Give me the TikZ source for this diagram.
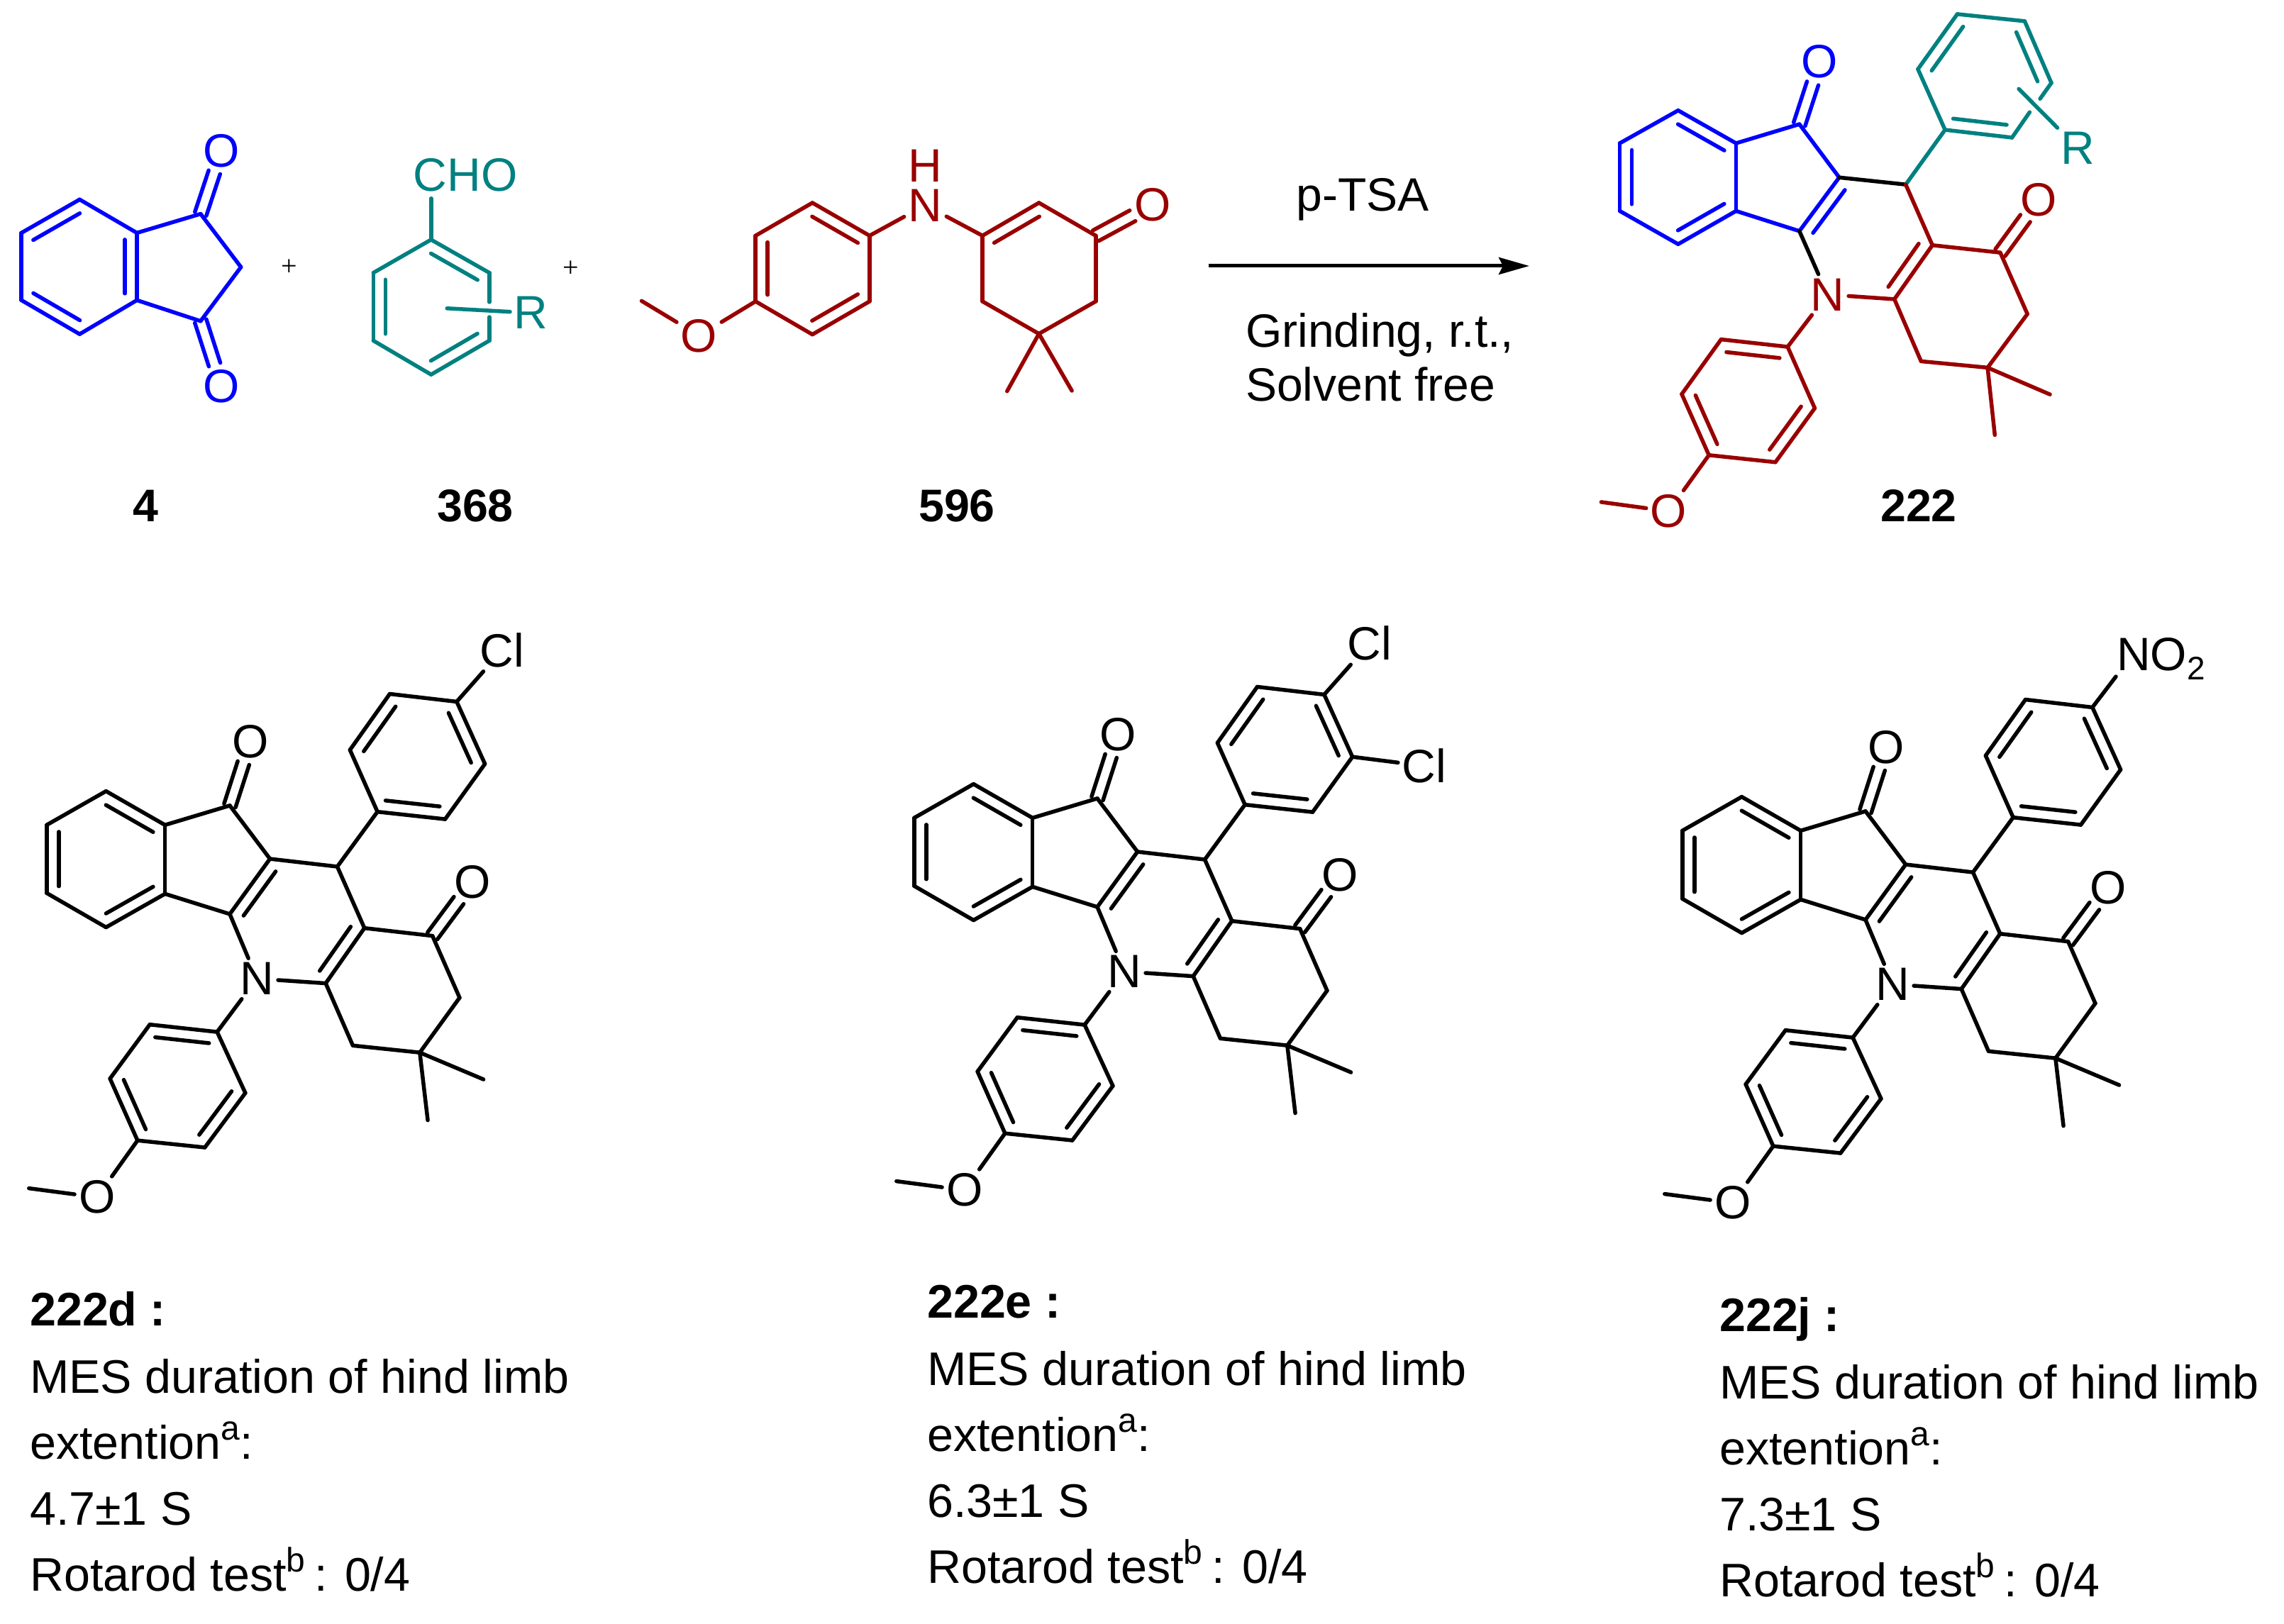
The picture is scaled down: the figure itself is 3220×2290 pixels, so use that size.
\documentclass[tikz,border=0pt]{standalone}
\usepackage{fontspec}
\setmainfont{Liberation Sans}
\newfontfamily\plusfont{Liberation Serif}
\usetikzlibrary{calc,arrows.meta}
\definecolor{molblue}{HTML}{0000FF}
\definecolor{molteal}{HTML}{008080}
\definecolor{molred}{HTML}{990000}
\newcommand\atomfont{\fontsize{66}{66}\selectfont}
\newcommand\bodyfont{\fontsize{66.4}{66.4}\selectfont}
\newcommand\condfont{\fontsize{66}{66}\selectfont}
\newcommand\boldfont{\fontsize{66.4}{66.4}\selectfont\bfseries}
\newcommand\supfont{\fontsize{48}{48}\selectfont}
\newcommand\sbond{27pt}
\tikzset{
  bond/.style={line width=5.5pt,line cap=round,line join=round},
  atom/.style={font=\atomfont,inner sep=6pt,outer sep=0pt},
  plain/.style={font=\bodyfont,inner sep=0pt,anchor=base west},
  cond/.style={font=\condfont,inner sep=0pt,anchor=base west},
  bold/.style={font=\boldfont,inner sep=0pt,anchor=base west},
  cpd/.style={font=\fontsize{64.5}{64.5}\selectfont\bfseries,inner sep=0pt,anchor=base},
  plussign/.style={font=\fontsize{40}{40}\selectfont\plusfont,inner sep=0pt},
  crop3/.style={x=.5102pt,y=-.5485pt}
}
% inner line of a double bond (on the left of the direction a->b)
\newcommand\ib[3][black]{\draw[bond,#1] ($(#2)!.1!(#3)!17pt!90:(#3)$) -- ($(#3)!.1!(#2)!17pt!-90:(#2)$);}
% C=O with two symmetric lines
\newcommand\dbo[3][black]{%
  \draw[bond,#1,shorten >=32pt] ($(#2)!8.5pt!90:(#3)$) -- ($(#3)!8.5pt!-90:(#2)$);
  \draw[bond,#1,shorten >=32pt] ($(#2)!8.5pt!-90:(#3)$) -- ($(#3)!8.5pt!90:(#2)$);}
% coordinates of the lower products (222d, e, j)
\newcommand\lowercoords[1]{%
  \coordinate (#1a1) at (293,466); \coordinate (#1a2) at (129,553); \coordinate (#1a3) at (129,728);
  \coordinate (#1a4) at (293,816); \coordinate (#1a5) at (456,730); \coordinate (#1a6) at (456,553);
  \coordinate (#1c1) at (635,503); \coordinate (#1c2) at (746,640); \coordinate (#1c3) at (635,782);
  \coordinate (#1c4) at (932,660);
  \coordinate (#1p1) at (1043,519); \coordinate (#1p2) at (967,360); \coordinate (#1p3) at (1077,216);
  \coordinate (#1p4) at (1262,236); \coordinate (#1p5) at (1340,396); \coordinate (#1p6) at (1230,538);
  \coordinate (#1c5) at (1007,818); \coordinate (#1c6) at (900,960); \coordinate (#1c7) at (975,1120);
  \coordinate (#1c8) at (1160,1138); \coordinate (#1c9) at (1270,997); \coordinate (#1c10) at (1195,838);
  \coordinate (#1Me1) at (1336,1207); \coordinate (#1Me2) at (1182,1312);
  \coordinate (#1q1) at (600,1085); \coordinate (#1q2) at (414,1066); \coordinate (#1q3) at (304,1205);
  \coordinate (#1q4) at (380,1364); \coordinate (#1q5) at (566,1382); \coordinate (#1q6) at (678,1242);
  \coordinate (#1Me) at (80,1487);
  \node[atom] (#1Oa) at (692,338) {O};
  \node[atom] (#1Ob) at (1305,700) {O};
  \node[atom] (#1Oc) at (268,1510) {O};
  \node[atom] (#1N) at (710,948) {N};
}
% coordinates of product 222
\newcommand\topcoords[1]{%
  \coordinate (#1a1) at (260,313); \coordinate (#1a2) at (131,406); \coordinate (#1a3) at (131,598);
  \coordinate (#1a4) at (260,692); \coordinate (#1a5) at (388,598); \coordinate (#1a6) at (388,406);
  \coordinate (#1c1) at (528,352); \coordinate (#1c2) at (616,503); \coordinate (#1c3) at (528,655);
  \coordinate (#1c4) at (763,523);
  \coordinate (#1p1) at (850,368); \coordinate (#1p2) at (790,196); \coordinate (#1p3) at (877,40);
  \coordinate (#1p4) at (1026,60); \coordinate (#1p5) at (1085,235); \coordinate (#1p6) at (998,390);
  \coordinate (#1c5) at (822,695); \coordinate (#1c6) at (738,848); \coordinate (#1c7) at (797,1024);
  \coordinate (#1c8) at (944,1042); \coordinate (#1c9) at (1032,890); \coordinate (#1c10) at (972,716);
  \coordinate (#1Me1) at (1082,1118); \coordinate (#1Me2) at (960,1233);
  \coordinate (#1q1) at (502,983); \coordinate (#1q2) at (355,962); \coordinate (#1q3) at (268,1117);
  \coordinate (#1q4) at (328,1290); \coordinate (#1q5) at (475,1310); \coordinate (#1q6) at (562,1157);
  \coordinate (#1Me) at (90,1423);
  \coordinate (#1rb) at (1013,252); \coordinate (#1g1) at (1060,280); \coordinate (#1g2) at (1037,318);
  \node[atom,text=molblue] (#1Oa) at (573,175) {O};
  \node[atom,text=molred] (#1Ob) at (1057,567) {O};
  \node[atom,text=molred] (#1Oc) at (239,1449) {O};
  \node[atom,text=molred] (#1N) at (590,835) {N};
  \node[atom,text=molteal] (#1R) at (1143,420) {R};
}
% #1 prefix, #2 indeno colour, #3 link colour, #4 aryl colour, #5 amine colour
\newcommand\fusedbonds[5]{%
  \foreach \u/\v in {a1/a2,a2/a3,a3/a4,a4/a5,a5/a6,a6/a1,a6/c1,c1/c2,c2/c3,c3/a5}
    \draw[bond,#2] (#1\u) -- (#1\v);
  \ib[#2]{#1a6}{#1a1} \ib[#2]{#1a2}{#1a3} \ib[#2]{#1a4}{#1a5} \ib[#2]{#1c2}{#1c3}
  \dbo[#2]{#1c1}{#1Oa}
  \foreach \u/\v in {c2/c4,c3/N} \draw[bond,#3] (#1\u) -- (#1\v);
  \foreach \u/\v in {c4/p1,p1/p2,p2/p3,p3/p4,p4/p5,p6/p1} \draw[bond,#4] (#1\u) -- (#1\v);
  \ib[#4]{#1p3}{#1p2} \ib[#4]{#1p1}{#1p6} \ib[#4]{#1p5}{#1p4}
  \foreach \u/\v in {c4/c5,c5/c10,c10/c9,c9/c8,c8/c7,c7/c6,c6/c5,c6/N,N/q1,q1/q2,q2/q3,q3/q4,q4/q5,q5/q6,q6/q1,q4/Oc,Oc/Me,c8/Me1,c8/Me2}
    \draw[bond,#5] (#1\u) -- (#1\v);
  \ib[#5]{#1c6}{#1c5} \ib[#5]{#1q1}{#1q2} \ib[#5]{#1q3}{#1q4} \ib[#5]{#1q5}{#1q6}
  \dbo[#5]{#1c10}{#1Ob}
}
% text block: prefix, x, first baseline, name, value
\newcommand\resblock[5]{%
  \node[bold] (#1l1) at (#2,#3) {#4 :};
  \node[plain] (#1l2) at (#2,#3+95) {MES duration of hind limb};
  \node[plain] (#1l3) at (#2,#3+188) {extention\raisebox{\sbond}{\supfont a}:};
  \node[plain] (#1l4) at (#2,#3+281) {#5};
  \node[plain] (#1l5) at (#2,#3+374) {Rotarod test\raisebox{\sbond}{\supfont b}\hspace{-6pt} : 0/4};
}
\begin{document}
\begin{tikzpicture}[x=1pt,y=-1pt]
\useasboundingbox (0,0) rectangle (3220,2290);

% ---------- compound 4 and 368
\begin{scope}[shift={(0,160)},x=.7018pt,y=-.3827pt]
  \coordinate (b1) at (160,317); \coordinate (b2) at (43,440); \coordinate (b3) at (43,688);
  \coordinate (b4) at (160,813); \coordinate (b5) at (275,688); \coordinate (b6) at (275,440);
  \coordinate (bc1) at (403,370); \coordinate (bc2) at (484,566); \coordinate (bc3) at (403,765);
  \node[atom,text=molblue] (bO1) at (445,137) {O};
  \node[atom,text=molblue] (bO2) at (445,1005) {O};
  \coordinate (d1) at (866,465); \coordinate (d2) at (750,587); \coordinate (d3) at (750,837);
  \coordinate (d4) at (866,962); \coordinate (d5) at (983,837); \coordinate (d6) at (983,587);
  \coordinate (chob) at (866,313); \coordinate (rb1) at (898,718);
  \coordinate (dg1) at (983,695); \coordinate (dg2) at (983,750);
  \node[atom,text=molteal] (CHO) at (935,228) {CHO};
  \node[atom,text=molteal] (dR) at (1067,735) {R};
  \node[plussign] (plus1) at (581,568) {+};
  \node[plussign] (plus2) at (1147,573) {+};
\end{scope}
\foreach \u/\v in {b1/b2,b2/b3,b3/b4,b4/b5,b5/b6,b6/b1,b6/bc1,bc1/bc2,bc2/bc3,bc3/b5}
  \draw[bond,molblue] (\u) -- (\v);
\ib[molblue]{b1}{b2} \ib[molblue]{b3}{b4} \ib[molblue]{b5}{b6}
\dbo[molblue]{bc1}{bO1} \dbo[molblue]{bc3}{bO2}
\foreach \u/\v in {d1/d2,d2/d3,d3/d4,d4/d5,d6/d1,d1/chob,d6/dg1,dg2/d5,rb1/dR}
  \draw[bond,molteal] (\u) -- (\v);
\ib[molteal]{d6}{d1} \ib[molteal]{d2}{d3} \ib[molteal]{d4}{d5}

% ---------- compound 596
\begin{scope}[shift={(880,180)},x=.5102pt,y=-.3333pt]
  \coordinate (r1) at (520,318); \coordinate (r2) at (363,457); \coordinate (r3) at (363,735);
  \coordinate (r4) at (520,875); \coordinate (r5) at (678,735); \coordinate (r6) at (678,457);
  \coordinate (rc1) at (990,457); \coordinate (rc2) at (1146,318); \coordinate (rc3) at (1303,457);
  \coordinate (rc4) at (1303,735); \coordinate (rc5) at (1146,872); \coordinate (rc6) at (990,735);
  \coordinate (rMe) at (48,733); \coordinate (rMe1) at (1058,1115); \coordinate (rMe2) at (1237,1113);
  \node[atom,text=molred] (rN) at (832,328) {N};
  \node[atom,text=molred,inner sep=0pt] (rH) at (832,160) {H};
  \node[atom,text=molred] (rO) at (207,880) {O};
  \node[atom,text=molred] (rO2) at (1460,327) {O};
\end{scope}
\foreach \u/\v in {r1/r2,r2/r3,r3/r4,r4/r5,r5/r6,r6/r1,r6/rN,rN/rc1,rc1/rc2,rc2/rc3,rc3/rc4,rc4/rc5,rc5/rc6,rc6/rc1,r3/rO,rO/rMe,rc5/rMe1,rc5/rMe2}
  \draw[bond,molred] (\u) -- (\v);
\ib[molred]{r6}{r1} \ib[molred]{r2}{r3} \ib[molred]{r4}{r5} \ib[molred]{rc2}{rc1}
\dbo[molred]{rc3}{rO2}

% ---------- reaction arrow and conditions
\coordinate (arrA) at (1704,375); \coordinate (arrB) at (2156,375);
\draw[line width=5pt,-{Stealth[length=43pt,width=24pt,inset=6pt]}] (arrA) -- (arrB);
\node[cond,anchor=base] (ptsa) at (1921,298) {p-TSA};
\node[cond] (grind) at (1756,489) {Grinding, r.t.,};
\node[cond] (solv) at (1756,565) {Solvent free};

% ---------- product 222
\begin{scope}[shift={(2200,0)},x=.6378pt,y=-.4975pt]
  \topcoords{t}
\end{scope}
\fusedbonds{t}{molblue}{black}{molteal}{molred}
\foreach \u/\v in {p5/g1,g2/p6,rb/R} \draw[bond,molteal] (t\u) -- (t\v);

% ---------- labels
\node[cpd] (lab4) at (205,735) {4};
\node[cpd] (lab368) at (670,735) {368};
\node[cpd] (lab596) at (1349,735) {596};
\node[cpd] (lab222) at (2705,735) {222};

% ---------- 222d
\begin{scope}[shift={(0,860)},crop3]
  \lowercoords{d-}
  \node[atom] (d-Cl) at (1388,103) {Cl};
\end{scope}
\fusedbonds{d-}{black}{black}{black}{black}
\draw[bond] (d-p5) -- (d-p6);
\draw[bond] (d-p4) -- (d-Cl);

% ---------- 222e
\begin{scope}[shift={(1223,850)},crop3]
  \lowercoords{e-}
\end{scope}
\node[atom] (e-Cl1) at (1931,907) {Cl};
\node[atom] (e-Cl2) at (2008,1080) {Cl};
\fusedbonds{e-}{black}{black}{black}{black}
\draw[bond] (e-p5) -- (e-p6);
\draw[bond] (e-p4) -- (e-Cl1);
\draw[bond] (e-p5) -- (e-Cl2);

% ---------- 222j
\begin{scope}[shift={(2306,868)},crop3]
  \lowercoords{j-}
\end{scope}
\coordinate (j-nb) at (2983,954);
\node[font=\atomfont,inner sep=0pt,anchor=base west] (j-NO2) at (2984,945) {NO\raisebox{-13pt}{\fontsize{46}{46}\selectfont 2}};
\fusedbonds{j-}{black}{black}{black}{black}
\draw[bond] (j-p5) -- (j-p6);
\draw[bond] (j-p4) -- (j-nb);

% ---------- text blocks
\resblock{tD}{42}{1869}{222d}{4.7±1 S}
\resblock{tE}{1307}{1858}{222e}{6.3±1 S}
\resblock{tJ}{2424}{1877}{222j}{7.3±1 S}
\end{tikzpicture}
\end{document}
